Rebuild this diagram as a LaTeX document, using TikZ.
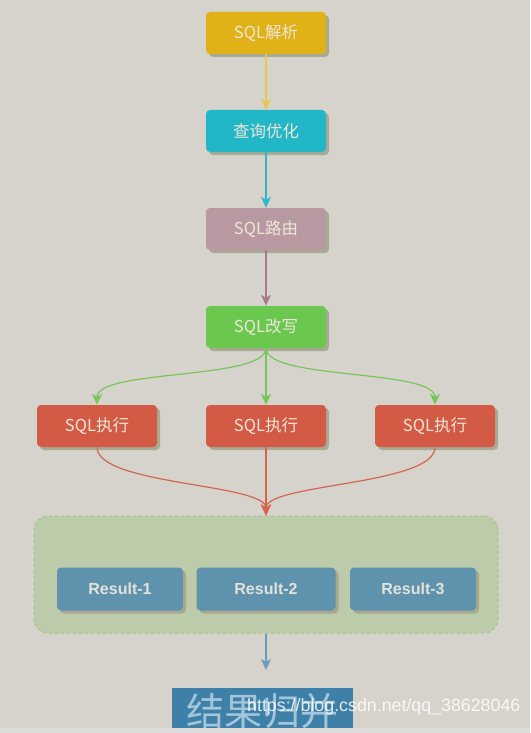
\documentclass[tikz,border=0pt]{standalone}
\usepackage{fontspec}
\setmainfont{Noto Sans CJK SC}
\newfontfamily\latinsans{Liberation Sans}
\usetikzlibrary{arrows.meta, positioning, shadows}
\definecolor{SHbg}{HTML}{D6D3CC}
\definecolor{SHstrip}{HTML}{DDDCDA}
\definecolor{SHgold}{HTML}{E0B217}
\definecolor{SHteal}{HTML}{22B7C6}
\definecolor{SHmauve}{HTML}{B999A1}
\definecolor{SHgreen}{HTML}{6AC84F}
\definecolor{SHred}{HTML}{D35A44}
\definecolor{SHsteel}{HTML}{5F93AD}
\definecolor{SHmerge}{HTML}{3F80A8}
\definecolor{SHgroup}{HTML}{BCCBAA}
\definecolor{SHgroupedge}{HTML}{A3C28C}
\definecolor{SHshadow}{HTML}{A4A68E}
\definecolor{SHtext}{HTML}{EEE6D8}
\definecolor{SHresText}{HTML}{E2E2DC}
\definecolor{SHmergeText}{HTML}{A3C6DA}
\definecolor{SHarrowGold}{HTML}{E6C850}
\definecolor{SHarrowTeal}{HTML}{2EB8C8}
\definecolor{SHarrowMauve}{HTML}{A67B8B}
\definecolor{SHarrowGreen}{HTML}{78C658}
\definecolor{SHarrowRed}{HTML}{D4654E}
\definecolor{SHarrowBlue}{HTML}{6C9CB8}

\begin{document}
\begin{tikzpicture}[x=1pt, y=-1pt,
   step box/.style={rounded corners=4pt, minimum width=120pt, minimum height=42pt,
      text=SHtext, font=\fontsize{16.5}{16.5}\selectfont,
      drop shadow={shadow xshift=3pt, shadow yshift=-3pt, fill=SHshadow, opacity=.9}},
   result box/.style={step box, fill=SHsteel, minimum width=126pt, minimum height=43pt,
      text=SHresText, font=\latinsans\bfseries\fontsize{16}{16}\selectfont},
   flow/.style={-{Stealth[length=11pt, width=10pt, inset=3pt]}, line width=1.2pt}]
   % Canvas
   \useasboundingbox (0,0) rectangle (530,733);
   \fill[SHbg] (0,0) rectangle (530,733);
   % Main column
   \node (parse)    [step box, fill=SHgold]  at (266,33)  {SQL解析};
   \node (optimize) [step box, fill=SHteal]  at (266,131) {查询优化};
   \node (route)    [step box, fill=SHmauve] at (266,229) {SQL路由};
   \node (rewrite)  [step box, fill=SHgreen] at (266,327) {SQL改写};
   \draw[flow, SHarrowGold]  (parse)    -- (optimize);
   \draw[flow, SHarrowTeal]  (optimize) -- (route);
   \draw[flow, SHarrowMauve] (route)    -- (rewrite);
   % Execution on three shards
   \node (exec1) [step box, fill=SHred] at (97,426)  {SQL执行};
   \node (exec2) [step box, fill=SHred] at (266,426) {SQL执行};
   \node (exec3) [step box, fill=SHred] at (435,426) {SQL执行};
   \draw[flow, SHarrowGreen] (rewrite.south) .. controls +(0,32) and +(0,-36) .. (exec1.north);
   \draw[flow, SHarrowGreen] (rewrite.south) -- (exec2.north);
   \draw[flow, SHarrowGreen] (rewrite.south) .. controls +(0,32) and +(0,-36) .. (exec3.north);
   % Result group
   \node (group) [fill=SHgroup, draw=SHgroupedge, dashed, line width=1pt, rounded corners=14pt,
      minimum width=464pt, minimum height=117pt] at (266,574.5) {};
   \draw[flow, SHarrowRed] (exec1.south) .. controls +(0,38) and +(0,-32) .. (group.north);
   \draw[flow, SHarrowRed] (exec2.south) -- (group.north);
   \draw[flow, SHarrowRed] (exec3.south) .. controls +(0,38) and +(0,-32) .. (group.north);
   \node (res1) [result box] at (120,589) {Result-1};
   \node (res2) [result box, minimum width=139pt] at (266,589) {Result-2};
   \node (res3) [result box] at (413,589) {Result-3};
   % Merge
   \coordinate (mergetip) at (266,670);
   \draw[flow, SHarrowBlue] (group.south) -- (mergetip);
   \node (merge) [fill=SHmerge, minimum width=181pt, minimum height=46pt,
      text=SHmergeText, font=\fontsize{38}{38}\selectfont] at (262.5,711) {结果归并};
   \fill[SHstrip] (0,728) rectangle (530,733);
   % Watermark
   \node (mark) [anchor=west, inner sep=0pt, text=white, opacity=.85,
      font=\latinsans\fontsize{17.8}{17.8}\selectfont] at (247,707) {https://blog.csdn.net/qq\_38628046};
\end{tikzpicture}
\end{document}
